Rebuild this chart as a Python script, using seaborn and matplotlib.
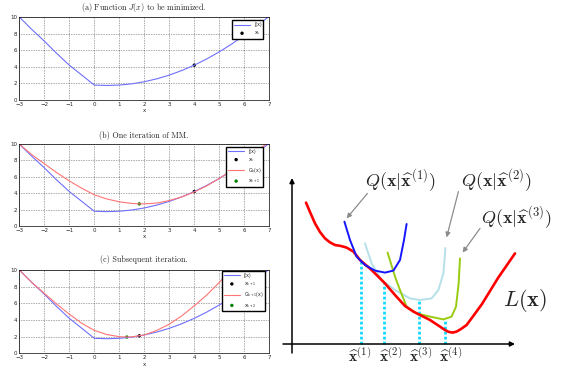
import numpy as np
import pandas as pd
import matplotlib
matplotlib.use('Agg')
import matplotlib.pyplot as plt
import seaborn as sns

# ---- left panels: MM iterations ----
J_X = [-3, -2.5, -2, -1.5, -1, -0.5, 0, 0.5, 1, 1.5, 2, 2.5, 3, 3.5, 4, 4.5, 5, 5.5, 6, 6.5, 7]
J_Y = [10, 8.5, 7.1, 5.6, 4.2, 3.0, 1.8, 1.75, 1.8, 1.95, 2.2, 2.55, 3.0, 3.55, 4.2, 4.95, 5.8, 6.75, 7.8, 8.9, 10.1]

GB_X = [-3, -2.5, -2, -1.5, -1, -0.5, 0, 0.5, 1, 1.5, 1.8, 2, 2.5, 3, 3.5, 4, 4.5, 5, 5.5, 6, 6.5, 7]
GB_Y = [10, 8.7, 7.6, 6.5, 5.5, 4.6, 3.8, 3.3, 2.95, 2.75, 2.7, 2.7, 2.8, 3.1, 3.55, 4.15, 4.9, 5.8, 6.8, 7.9, 9.1, 10.3]

GC_X = [-3, -2.5, -2, -1.5, -1, -0.5, 0, 0.5, 1, 1.3, 1.5, 2, 2.5, 3, 3.5, 4, 4.5, 5, 5.5]
GC_Y = [10, 8.5, 7.2, 5.9, 4.7, 3.6, 2.75, 2.25, 2.0, 1.95, 1.97, 2.2, 2.75, 3.5, 4.5, 5.7, 7.0, 8.5, 10.2]

XK_A = ([4], [4.2])
XK_B = ([4], [4.2])
XK1_B = ([1.8], [2.7])
XK1_C = ([1.8], [2.1])
XK2_C = ([1.3], [1.95])

TITLES = ['(a) Function $J(x)$ to be minimized.',
          '(b) One iteration of MM.',
          '(c) Subsequent iteration.']

# ---- right panel: schematic ----
L_X = [0.7, 0.9, 1.15, 1.4, 1.65, 1.9, 2.15, 2.45, 2.73, 3.07, 3.4, 3.98, 4.65, 5.15, 5.65, 6.07,
       6.4, 6.9, 7.4, 7.65, 7.82, 8.03, 8.23, 8.45, 8.73, 9.1, 9.5, 10.3, 11.15]
L_Y = [7.07, 6.6, 6.03, 5.6, 5.28, 5.08, 4.95, 4.9, 4.82, 4.62, 4.2, 3.7, 3.03, 2.45, 1.9, 1.62,
       1.45, 1.2, 0.87, 0.7, 0.61, 0.57, 0.62, 0.75, 0.95, 1.45, 2.0, 3.3, 4.53]
Q1_X = [2.62, 2.9, 3.23, 3.65, 4.15, 4.65, 5.07, 5.4, 5.6, 5.73]
Q1_Y = [6.12, 5.2, 4.37, 3.95, 3.67, 3.57, 3.67, 4.2, 5.2, 6.0]
Q2_X = [3.65, 3.98, 4.48, 5.15, 5.9, 6.4, 6.98, 7.32, 7.57, 7.67]
Q2_Y = [5.03, 4.03, 3.2, 2.7, 2.28, 2.2, 2.28, 2.7, 3.53, 4.8]
Q3_X = [4.78, 5.15, 5.4, 5.73, 6.23, 6.9, 7.57, 7.98, 8.2, 8.33, 8.4]
Q3_Y = [4.57, 3.37, 2.7, 1.87, 1.53, 1.37, 1.23, 1.37, 1.87, 3.0, 4.28]
XHAT_POS = [3.43, 4.6, 6.35, 7.65]
XHAT_TOP = [4.2, 3.05, 2.2, 1.22]
XHAT_LABEL_POS = [3.4, 4.95, 6.45, 7.95]
XHAT_LABELS = [r'$\widehat{\mathbf{x}}^{(1)}$', r'$\widehat{\mathbf{x}}^{(2)}$',
               r'$\widehat{\mathbf{x}}^{(3)}$', r'$\widehat{\mathbf{x}}^{(4)}$']
Q_LABELS = [r'$Q(\mathbf{x}|\widehat{\mathbf{x}}^{(1)})$',
            r'$Q(\mathbf{x}|\widehat{\mathbf{x}}^{(2)})$',
            r'$Q(\mathbf{x}|\widehat{\mathbf{x}}^{(3)})$']

sns.set_style('white')
plt.rcParams['font.family'] = ['DejaVu Sans']
plt.rcParams['mathtext.fontset'] = 'cm'

W, H = 561, 368
fig = plt.figure(figsize=(W / 100, H / 100), dpi=100)

BLUE = '#6f6fff'
RED = '#ff7575'
leg_font = dict(size=3.3, math_fontfamily='dejavusans')


def px_axes(left, top, right, bottom):
    return fig.add_axes([left / W, 1 - bottom / H, (right - left) / W, (bottom - top) / H])


def setup_left(ax):
    ax.set_xlim(-3, 7)
    ax.set_ylim(0, 10)
    ax.set_xticks(range(-3, 8))
    ax.set_yticks(range(0, 11, 2))
    ax.tick_params(labelsize=4, direction='in', length=2, width=0.4, pad=1.5)
    ax.grid(True, color='black', linestyle=(0, (1, 2)), linewidth=0.4)
    for s in ax.spines.values():
        s.set_linewidth(0.5)
        s.set_color('black')
    ax.set_xlabel('x', fontsize=4, labelpad=1)


panels = [(17, 100), (144, 226), (270, 353.3)]
title_y = [8, 135, 260]
axes = [px_axes(19.3, t, 269.3, b) for t, b in panels]

# (a)
ax = axes[0]
sns.lineplot(x=J_X, y=J_Y, ax=ax, color=BLUE, lw=0.8, label='J(x)')
sns.scatterplot(x=XK_A[0], y=XK_A[1], ax=ax, color='black', s=6, edgecolor='none', label=r'x$_\mathrm{k}$')
setup_left(ax)
ax.legend(loc='upper right', bbox_to_anchor=(0.976, 0.96), borderaxespad=0, prop=leg_font,
          fancybox=False, edgecolor='black', framealpha=1, handlelength=3.5)

# (b)
ax = axes[1]
sns.lineplot(x=J_X, y=J_Y, ax=ax, color=BLUE, lw=0.8, label='J(x)')
sns.scatterplot(x=XK_B[0], y=XK_B[1], ax=ax, color='black', s=6, edgecolor='none', label=r'x$_\mathrm{k}$')
sns.lineplot(x=GB_X, y=GB_Y, ax=ax, color=RED, lw=0.8, label=r'G$_\mathrm{k}$(x)')
sns.scatterplot(x=XK1_B[0], y=XK1_B[1], ax=ax, color='#008000', s=6, edgecolor='none', label=r'x$_\mathrm{k+1}$')
setup_left(ax)
ax.legend(loc='upper right', bbox_to_anchor=(0.976, 0.967), borderaxespad=0, prop=leg_font,
          fancybox=False, edgecolor='black', framealpha=1, handlelength=3.5)

# (c)
ax = axes[2]
sns.lineplot(x=J_X, y=J_Y, ax=ax, color=BLUE, lw=0.8, label='J(x)')
sns.scatterplot(x=XK1_C[0], y=XK1_C[1], ax=ax, color='black', s=6, edgecolor='none', label=r'x$_\mathrm{k+1}$')
sns.lineplot(x=GC_X, y=GC_Y, ax=ax, color=RED, lw=0.8, label=r'G$_\mathrm{k+1}$(x)')
sns.scatterplot(x=XK2_C[0], y=XK2_C[1], ax=ax, color='#008000', s=6, edgecolor='none', label=r'x$_\mathrm{k+2}$')
setup_left(ax)
ax.legend(loc='upper right', bbox_to_anchor=(0.983, 0.988), borderaxespad=0, prop=leg_font,
          fancybox=False, edgecolor='black', framealpha=1, handlelength=3.5)

for t, y in zip(TITLES, title_y):
    fig.text(144 / W, 1 - y / H, t, ha='center', va='center', fontsize=5.8, family='cmr10')

# right schematic, 1 data unit = 20 px, origin at pixel (292, 344)
rx = px_axes(280, 160, 561, 368)
rx.set_xlim(-0.6, 13.45)
rx.set_ylim(-1.2, 9.2)
rx.axis('off')

arrow = dict(arrowstyle='-|>', color='black', lw=1.1, mutation_scale=7, shrinkA=0, shrinkB=0)
rx.annotate('', xy=(11.15, 0), xytext=(-0.45, 0), arrowprops=arrow)
rx.annotate('', xy=(0, 8.3), xytext=(0, -0.45), arrowprops=arrow)

for xp, top in zip(XHAT_POS, XHAT_TOP):
    rx.plot([xp, xp], [0, top], color='#10d8ff', lw=2.0, linestyle=(0, (1, 0.8)), zorder=1)

sns.lineplot(x=Q2_X, y=Q2_Y, ax=rx, color='#b5e0e8', lw=1.4, zorder=2)
sns.lineplot(x=Q3_X, y=Q3_Y, ax=rx, color='#99cc11', lw=1.4, zorder=3)
sns.lineplot(x=L_X, y=L_Y, ax=rx, color='#ff0000', lw=1.9, zorder=4)
sns.lineplot(x=Q1_X, y=Q1_Y, ax=rx, color='#1515ff', lw=1.4, zorder=5)

garrow = dict(arrowstyle='-|>', color='#8c8c8c', lw=0.9, mutation_scale=7, shrinkA=0, shrinkB=0)
rx.annotate('', xy=(2.73, 6.28), xytext=(3.77, 7.53), arrowprops=garrow)
rx.annotate('', xy=(7.73, 5.33), xytext=(8.32, 7.62), arrowprops=garrow)
rx.annotate('', xy=(8.53, 4.57), xytext=(9.4, 5.78), arrowprops=garrow)

q_pos = [(5.4, 8.15), (10.2, 8.15), (11.2, 6.3)]
for lab, (qx, qy) in zip(Q_LABELS, q_pos):
    rx.text(qx, qy, lab, ha='center', va='center', fontsize=13)
rx.text(11.65, 2.15, r'$L(\mathbf{x})$', ha='center', va='center', fontsize=16)
for xp, lab in zip(XHAT_LABEL_POS, XHAT_LABELS):
    rx.text(xp, -0.6, lab, ha='center', va='center', fontsize=11)

fig.savefig('out.png', dpi=100)
